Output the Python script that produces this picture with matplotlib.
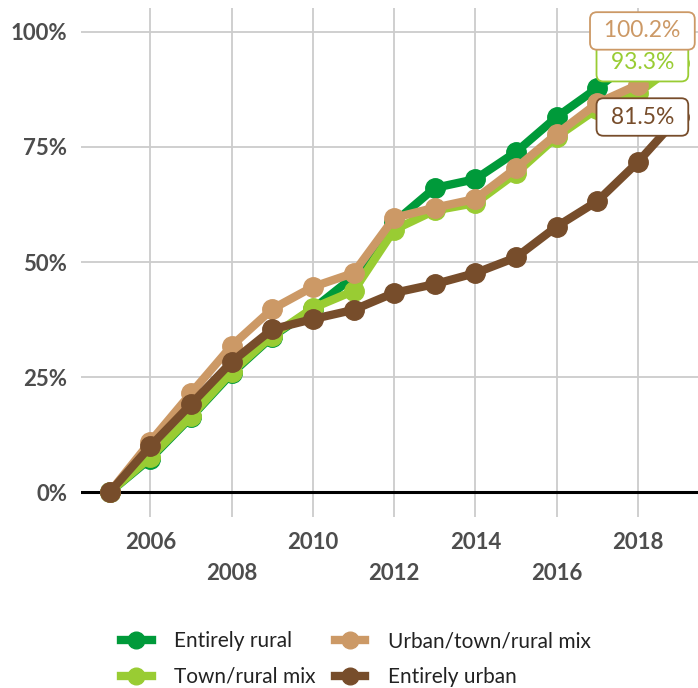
import matplotlib.pyplot as plt
from matplotlib.lines import Line2D

# data
years = list(range(2005, 2020))
rural = [0, 7.3, 16.3, 25.8, 33.8, 39.8, 46.8, 58.6, 66.1, 68.0, 73.9, 81.5, 87.8, 94.5, 101.5]
town_rural = [0, 7.6, 16.5, 26.1, 34.0, 40.0, 43.7, 57.0, 61.2, 62.8, 69.3, 77.2, 83.3, 86.7, 93.3]
mix = [0, 11.0, 21.5, 31.8, 39.8, 44.6, 47.6, 59.6, 61.8, 63.7, 70.4, 77.8, 84.5, 88.5, 100.2]
urban = [0, 10.0, 19.1, 28.3, 35.4, 37.6, 39.6, 43.3, 45.2, 47.6, 51.0, 57.7, 63.2, 71.7, 81.5]

names = ["Entirely rural", "Town/rural mix", "Urban/town/rural mix", "Entirely urban"]
colors = ["#009a3a", "#99cc33", "#cc9966", "#774d2b"]
series = [rural, town_rural, mix, urban]
show_label = [False, True, True, True]

plt.rcParams['font.family'] = ['Lato', 'DejaVu Sans']

fig = plt.figure(figsize=(6.98, 6.88), dpi=100)
ax = fig.add_axes([0.116, 0.2485, 0.884, 0.740])

for vals, c in zip(series, colors):
    ax.plot(years, vals, color=c, lw=6, marker='o', ms=14, solid_capstyle='round', zorder=3)

# end labels
for vals, c, show in zip(series, colors, show_label):
    if not show:
        continue
    ax.annotate(f" {vals[-1]:.1f}% ", xy=(years[-1], vals[-1]), xytext=(-26, 0),
                textcoords='offset points', ha='center', va='center',
                fontsize=16.5, color=c, zorder=5,
                bbox=dict(boxstyle='round,pad=0.36,rounding_size=0.3', fc='white', ec=c, lw=1.3))

ax.axhline(0, color='black', lw=2.2, zorder=2)

ax.set_xlim(2004.29, 2019.48)
ax.set_ylim(-5.4, 105.2)
ax.set_yticks([0, 25, 50, 75, 100])
ax.set_yticklabels(["0%", "25%", "50%", "75%", "100%"])
xt = list(range(2006, 2019, 2))
ax.set_xticks(xt)
ax.set_xticklabels([str(y) for y in xt])
ax.grid(True, color='#cccccc', lw=1.3)
ax.set_axisbelow(True)
for s in ax.spines.values():
    s.set_visible(False)
ax.tick_params(length=0, labelsize=16, labelcolor='#4d4d4d')
ax.tick_params(axis='y', pad=10)
for lab in ax.get_xticklabels() + ax.get_yticklabels():
    lab.set_fontweight('bold')
# staggered year labels
for i, t in enumerate(ax.xaxis.get_major_ticks()):
    t.set_pad(11 if i % 2 == 0 else 33)

handles = [Line2D([], [], color=c, lw=6, marker='o', ms=12) for c in colors]
fig.legend(handles, names, loc='center', bbox_to_anchor=(0.51, 0.042), ncol=2,
           frameon=False, fontsize=15, handlelength=1.45, handletextpad=1.1,
           columnspacing=0.9, labelspacing=0.75, labelcolor='#222222')

fig.savefig("out.png", dpi=100)
